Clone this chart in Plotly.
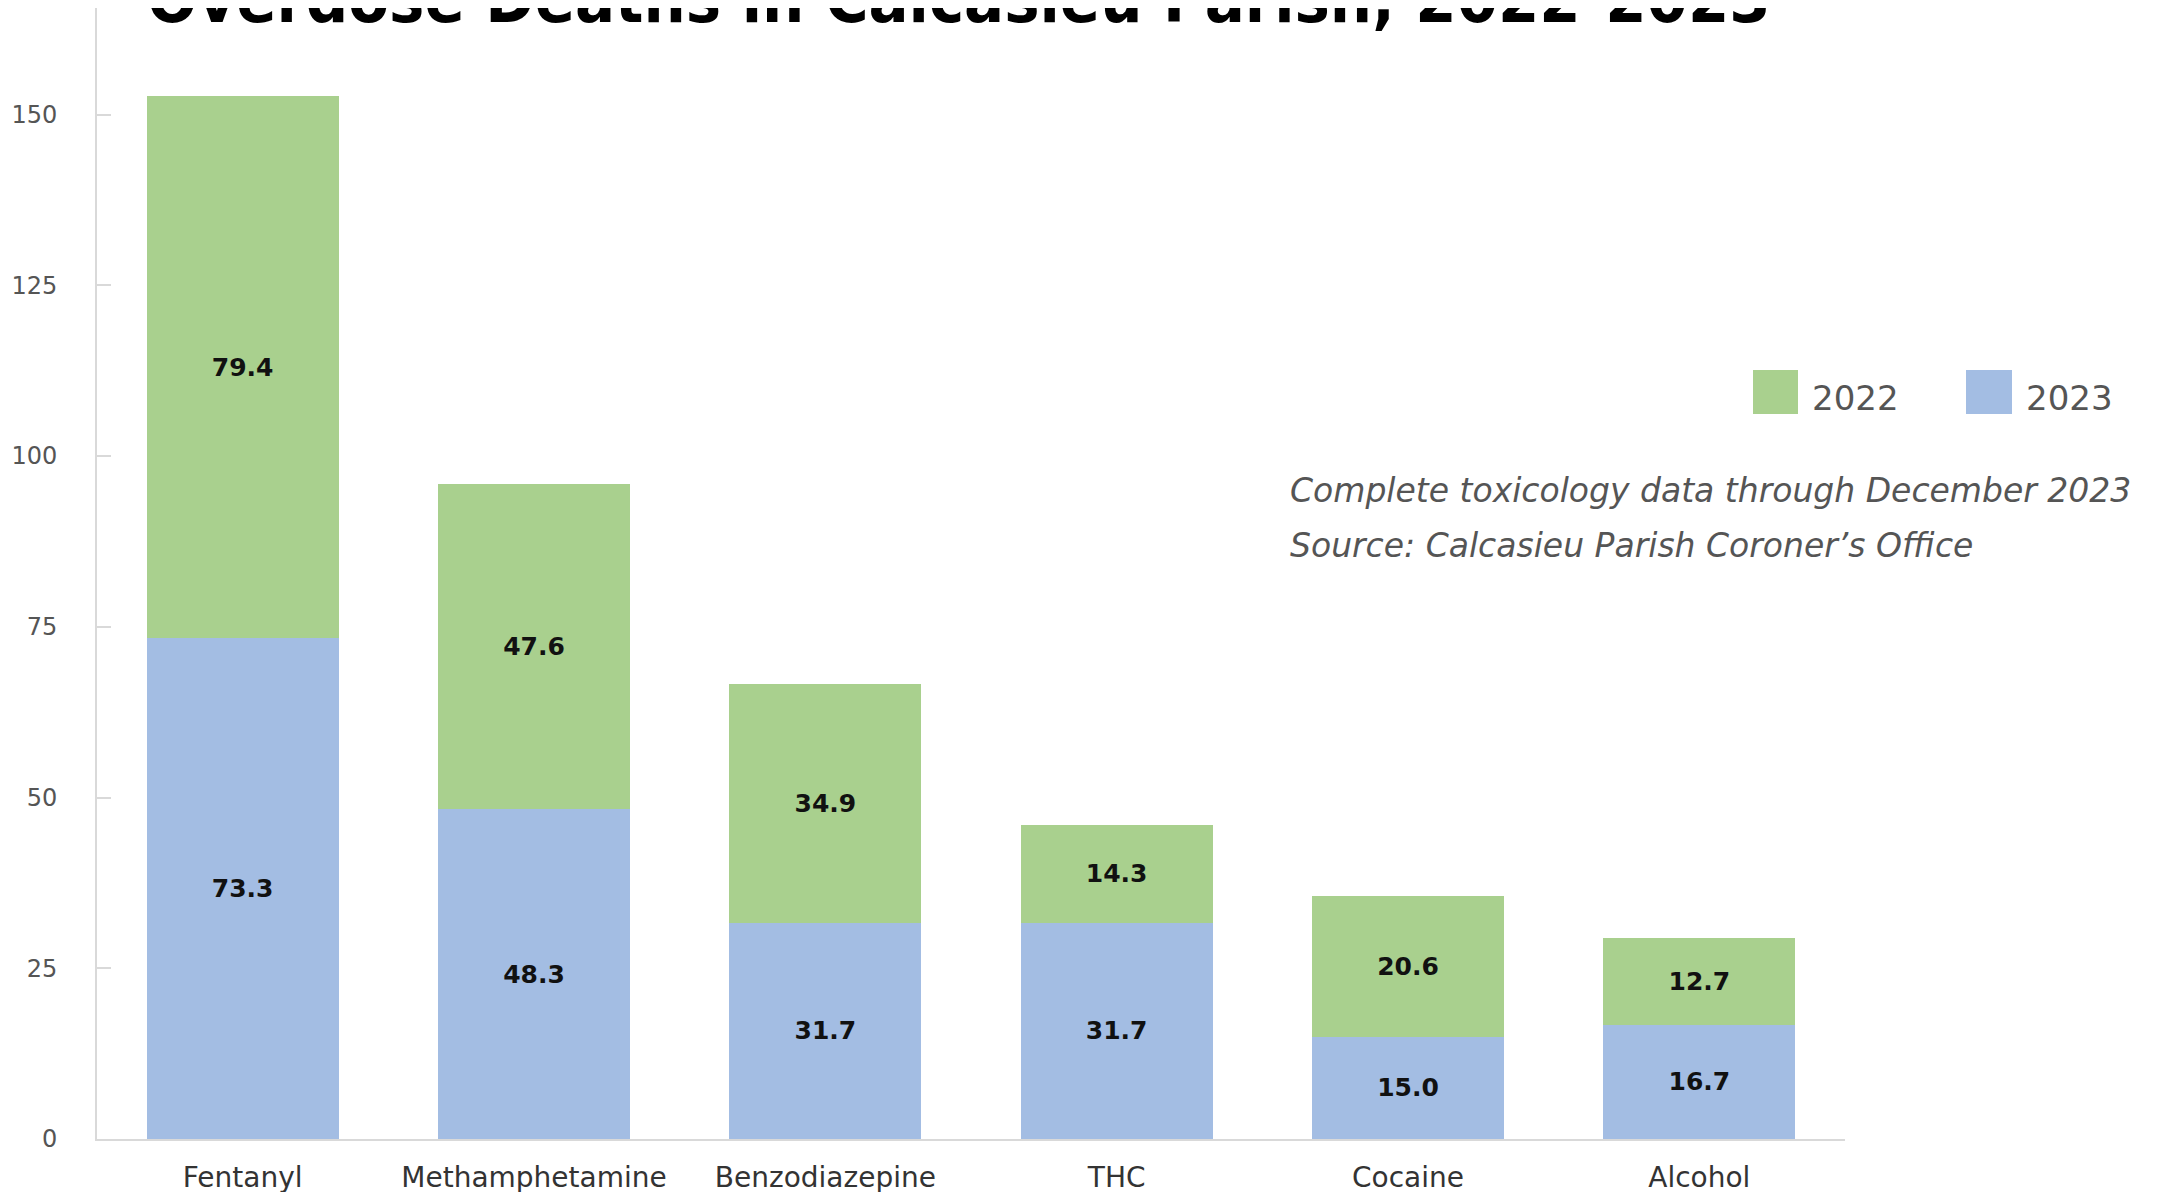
import plotly.graph_objects as go

substances = ["Fentanyl", "Methamphetamine", "Benzodiazepine", "THC", "Cocaine", "Alcohol"]
deaths_2023 = [73.3, 48.3, 31.7, 31.7, 15.0, 16.7]
deaths_2022 = [79.4, 47.6, 34.9, 14.3, 20.6, 12.7]
y_ticks = [0, 25, 50, 75, 100, 125, 150]

GREEN = "#a9d08e"
BLUE = "#a3bde3"
W, H = 2164, 1192
OFF = 8  # page body margin
L, R, T, B = 89, 327, 0, 61

label_font = dict(family="DejaVu Sans", size=25, color="#111111", weight="bold")

fig = go.Figure()
fig.add_trace(go.Bar(
    x=substances, y=deaths_2023, name="2023", marker=dict(color=BLUE, line_width=0),
    text=[f"{v:.1f}" for v in deaths_2023], textposition="inside", insidetextanchor="middle",
    textfont=label_font,
))
fig.add_trace(go.Bar(
    x=substances, y=deaths_2022, name="2022", marker=dict(color=GREEN, line_width=0),
    text=[f"{v:.1f}" for v in deaths_2022], textposition="inside", insidetextanchor="middle",
    textfont=label_font,
))


# convert on-screen pixel positions to paper coordinates
def px_x(p):
    return (p - OFF - L) / (W - L - R)


def px_y(p):
    return (H - B - (p - OFF)) / (H - B - T)


# hand-made legend with large swatches
for x0, x1, col, label in [(1753, 1798, GREEN, "2022"), (1966, 2012, BLUE, "2023")]:
    fig.add_shape(type="rect", xref="paper", yref="paper",
                  x0=px_x(x0), x1=px_x(x1), y0=px_y(414), y1=px_y(370),
                  fillcolor=col, line_width=0)
    fig.add_annotation(xref="paper", yref="paper", x=px_x(x1 + 12), y=px_y(398),
                       text=label, showarrow=False, xanchor="left", yanchor="middle",
                       font=dict(family="DejaVu Sans", size=34, color="#555555"))

fig.add_annotation(xref="paper", yref="paper", x=px_x(1288), y=px_y(491),
                   text="<i>Complete toxicology data through December 2023</i>",
                   showarrow=False, xanchor="left", yanchor="middle",
                   font=dict(family="DejaVu Sans", size=33, color="#555555"))
fig.add_annotation(xref="paper", yref="paper", x=px_x(1288), y=px_y(546),
                   text="<i>Source: Calcasieu Parish Coroner\u2019s Office</i>",
                   showarrow=False, xanchor="left", yanchor="middle",
                   font=dict(family="DejaVu Sans", size=33, color="#555555"))

fig.add_annotation(xref="paper", yref="paper", x=px_x(145), y=px_y(40),
                   text="<b>Overdose Deaths in Calcasieu Parish, 2022-2023</b>",
                   showarrow=False, xanchor="left", yanchor="bottom",
                   font=dict(family="Liberation Sans Narrow, DejaVu Sans Condensed, Liberation Sans",
                             size=66, color="#000000"))

fig.update_layout(
    width=W, height=H,
    barmode="stack", bargap=0.34,
    showlegend=False,
    paper_bgcolor="white", plot_bgcolor="white",
    margin=dict(l=L, r=R, t=T, b=B, pad=0),
)
fig.update_xaxes(
    showgrid=False, showline=True, linecolor="#d9d9d9", linewidth=2,
    ticks="", tickfont=dict(family="DejaVu Sans", size=28, color="#333333"),
    ticklabelstandoff=12,
)
fig.update_yaxes(
    range=[0, 165.6], tickvals=y_ticks, showgrid=False, zeroline=False,
    showline=True, linecolor="#d9d9d9", linewidth=2,
    ticks="inside", ticklen=14, tickwidth=2, tickcolor="#d9d9d9",
    tickfont=dict(family="DejaVu Sans", size=24, color="#555555"),
    ticklabelstandoff=33,
)

fig.write_html("out.html")
